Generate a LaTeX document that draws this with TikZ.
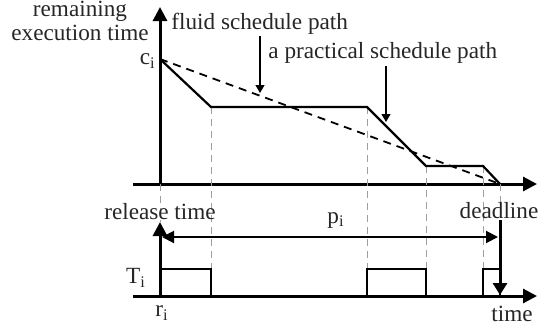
\documentclass[tikz,border=0pt]{standalone}
\usepackage{fontspec}
\setmainfont{Liberation Serif}
\usetikzlibrary{arrows.meta, positioning}

\tikzset{
  axis/.style={line width=1.5pt, -{Triangle[length=7pt, width=7pt]}},
  span/.style={line width=1pt, {Triangle[length=6pt, width=6pt]}-{Triangle[length=6pt, width=6pt]}},
  pointer/.style={line width=0.6pt, -{Triangle[length=4pt, width=4.5pt]}},
  guide/.style={draw=gray!75, dash pattern=on 3.5pt off 2.5pt, line width=0.5pt},
  lbl/.style={inner sep=0pt, align=center, text=black!85}
}

\begin{document}
\begin{tikzpicture}[x=0.5pt, y=-0.5pt, font=\fontsize{11.6}{14}\selectfont]
\useasboundingbox (0,0) rectangle (540,332);

% axes
\coordinate (o1) at (160,184);
\coordinate (o2) at (160,296);
\draw[axis] (133,184) -- (537,184);
\draw[axis] (o1) -- (160,7);
\draw[axis] (133,296) -- (537,296);
\draw[axis] (o2) -- (160,222);

% break points of the schedule
\coordinate (c) at (160,59);
\coordinate (a1) at (211,107);
\coordinate (a2) at (367,107);
\coordinate (a3) at (426,166);
\coordinate (a4) at (483,166);
\coordinate (d) at (500,184);

% guide lines
\draw[guide] (o1) -- (160,222);
\draw[guide] (a1) -- (211,269);
\draw[guide] (a2) -- (367,269);
\draw[guide] (a3) -- (426,269);
\draw[guide] (a4) -- (483,269);
\draw[guide] (d) -- (500,202);

% fluid and practical paths
\draw[line width=0.9pt, dash pattern=on 4pt off 3pt] (c) -- (d);
\draw[line width=1.1pt] (c) -- (a1) -- (a2) -- (a3) -- (a4) -- (d);

% time slots
\draw[line width=0.8pt] (160,296) rectangle (211,269);
\draw[line width=0.8pt] (367,296) rectangle (426,269);
\draw[line width=0.8pt] (483,296) rectangle (500,269);

% period and deadline
\coordinate (p1) at (162,237);
\coordinate (p2) at (498,237);
\draw[span] (p1) -- (p2);
\coordinate (dl) at (500,220);
\coordinate (dr) at (500,295);
\draw[line width=1.5pt, -{Triangle[length=6pt, width=7pt]}] (dl) -- (dr);

% labels
\node[lbl] (yl) at (80,21) {remaining\\[-2pt]execution time};
\node[lbl, anchor=west] (fl) at (171,24) {fluid schedule path};
\node[lbl, anchor=west] (pl) at (268,53) {a practical schedule path};
\coordinate (fp) at (260,93);
\coordinate (pp) at (386,122);
\draw[pointer] (260,36) -- (fp);
\draw[pointer] (386,66) -- (pp);

\node[lbl, anchor=east] (ci) at (156,61) {c\textsubscript{i}};
\node[lbl] (rel) at (160,212) {release time};
\node[lbl] (dead) at (499,211) {deadline};
\node[lbl] (pi) at (336,220) {p\textsubscript{i}};
\node[lbl] (ti) at (136,278) {T\textsubscript{i}};
\node[lbl] (ri) at (162,313) {r\textsubscript{i}};
\node[lbl] (tm) at (512,314) {time};
\end{tikzpicture}
\end{document}
